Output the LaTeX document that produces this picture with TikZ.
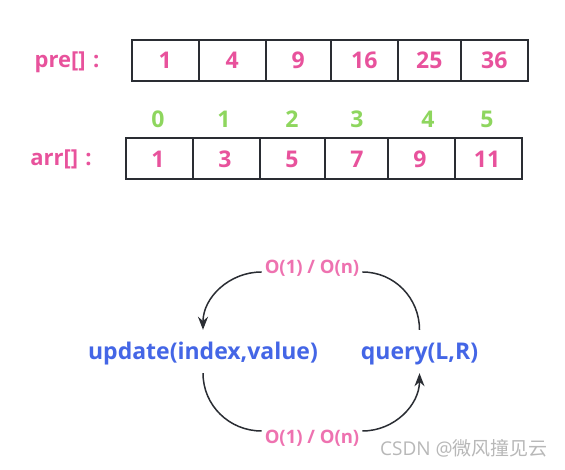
\documentclass[tikz,border=0pt]{standalone}
\usepackage{fontspec}
\setmainfont{Open Sans}
\newfontfamily\cjkfont{Noto Sans CJK SC}
\newfontfamily\wmfont{Open Sans}
\usetikzlibrary{arrows.meta}
\definecolor{pinkc}{HTML}{E8529C}
\definecolor{pinkl}{HTML}{EE72B0}
\definecolor{greenc}{HTML}{8ED65E}
\definecolor{bluec}{HTML}{4466E6}
\definecolor{linec}{HTML}{2A2D33}
\begin{document}
\begin{tikzpicture}[x=1pt,y=1pt,
  cellbox/.style={draw=linec,line width=1.5pt,minimum height=41pt,inner sep=0pt,anchor=south west},
  valtxt/.style={text=pinkc,font=\bfseries\fontsize{23}{26}\selectfont},
  idxtxt/.style={text=greenc,font=\bfseries\fontsize{23}{26}\selectfont},
  rowlbl/.style={text=pinkc,font=\bfseries\fontsize{22}{26}\selectfont},
  fnlbl/.style={text=bluec,font=\bfseries\fontsize{23}{26}\selectfont,inner xsep=0pt,inner ysep=10pt,text height=20pt,text depth=3pt,anchor=base},
  cxlbl/.style={text=pinkl,font=\bfseries\fontsize{18.5}{21}\selectfont,inner sep=3pt},
  arc/.style={draw=linec,line width=1.5pt},
  tip/.style={-{Stealth[length=13pt,width=10pt]}}]
\useasboundingbox (0,0) rectangle (565,470);
\fill[white] (0,0) rectangle (565,470);
% pre row
\node[rowlbl] (prel) at (67,408) {pre[]\,\,:};
\foreach \xa/\xb/\v [count=\i] in {131/198/1,198/265/4,265/330/9,330/397/16,397/460/25,460/527/36}{
  \node[cellbox,minimum width=\xb pt-\xa pt] (p\i) at (\xa,388) {};
  \node[valtxt] (pv\i) at (p\i.center) {\v};
}
% arr row
\node[rowlbl] (arrl) at (61,311) {arr[]\,\,:};
\foreach \xa/\xb/\v/\cx [count=\i] in {125/192/1/158,192/259/3/225,259/324/5/292,324/387/7/357,387/454/9/420,454/521/11/487}{
  \node[cellbox,minimum width=\xb pt-\xa pt] (a\i) at (\xa,290) {};
  \node[valtxt] (av\i) at (\cx,311) {\v};
}
\foreach \cx/\v [count=\i] in {158/0,224/1,292/2,357/3,428/4,487/5}{
  \node[idxtxt] (ix\i) at (\cx,351) {\v};
}
% functions
\node[fnlbl] (upd) at (203,110) {update(index,value)};
\node[fnlbl] (qry) at (419.5,110) {query(L,R)};
\node[cxlbl] (tl) at (312,202) {O(1) / O(n)};
\node[cxlbl] (bl) at (312,32) {O(1) / O(n)};
\draw[arc] (qry.north) to[out=90,in=0] ([yshift=-4pt]tl.east);
\draw[arc,tip] ([yshift=-4pt]tl.west) to[out=180,in=90] (upd.north);
\draw[arc] (upd.south) to[out=-90,in=180] ([yshift=7pt]bl.west);
\draw[arc,tip] ([yshift=7pt]bl.east) to[out=0,in=-90] (qry.south);
% watermark
\node[text=black!28,font=\wmfont\fontsize{19}{22}\selectfont,anchor=west,inner sep=0pt] (wm) at (380,22) {CSDN @{\cjkfont 微风撞见云}};
\end{tikzpicture}
\end{document}
